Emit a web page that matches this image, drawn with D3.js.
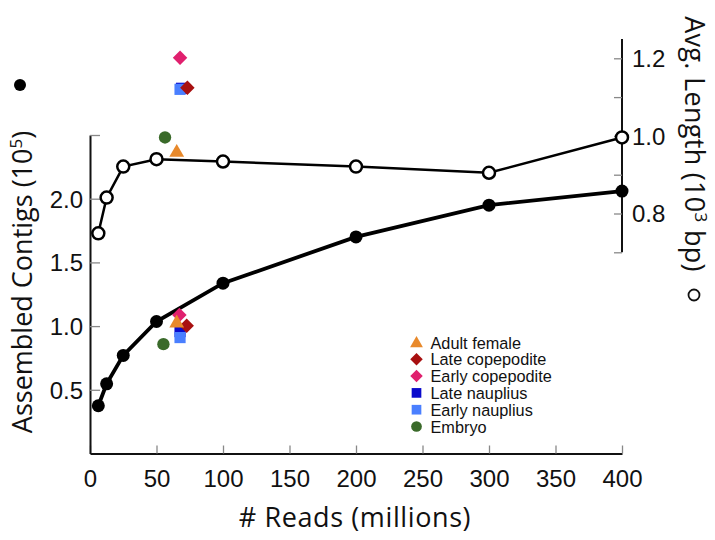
<!DOCTYPE html>
<html><head><meta charset="utf-8">
<script src="https://cdn.jsdelivr.net/npm/d3@7"></script>
<style>body{margin:0;background:#fff}svg{display:block}</style>
</head><body>
<svg id="c" width="715" height="540"></svg>
<script>
// ---- data ----
const reads = [6.25, 12.5, 25, 50, 100, 200, 300, 400];
const contigs = [0.375, 0.547, 0.77, 1.036, 1.337, 1.70, 1.949, 2.06];      // 10^5, left axis
const avgLength = [0.749, 0.841, 0.921, 0.94, 0.934, 0.921, 0.905, 0.996];  // 10^3 bp, right axis

const stages = ["Adult female", "Late copepodite", "Early copepodite", "Late nauplius", "Early nauplius", "Embryo"];
const stageReads = [65.2, 72.7, 67.2, 67.7, 67.7, 55.2];
const stageContigs = [1.023, 1.002, 1.088, 0.957, 0.91, 0.858];
const stageAvgReads = [65.2, 73.2, 67.7, 68.8, 67.7, 56.4];
const stageAvgLength = [0.957, 1.124, 1.2015, 1.1227, 1.12, 0.996];
const stageColors = ["#E8892B", "#A81010", "#E0206E", "#0A0ACC", "#4A7FFF", "#3A6A2A"];
const stageShapes = ["triangle", "diamond", "diamond", "square", "square", "circle"];

const xTicks = [0, 50, 100, 150, 200, 250, 300, 350, 400];
const leftTicks = [0.5, 1.0, 1.5, 2.0, 2.5];
const leftLabels = ["0.5", "1.0", "1.5", "2.0", ""];
const rightTicks = [0.7, 0.8, 0.9, 1.0, 1.1, 1.2];
const rightLabels = ["", "0.8", "", "1.0", "", "1.2"];

// ---- scales ----
const svg = d3.select("#c");
const x = d3.scaleLinear([0, 400], [90, 622]);
const yL = d3.scaleLinear([0, 2.5], [453.5, 135]);
const yR = d3.scaleLinear([0.7, 1.25], [252.3, 38.9]);

const tickFont = "'Liberation Sans', Arial, sans-serif";
const titleFont = "'Open Sans', sans-serif";

function styleAxis(g) {
  g.select(".domain").attr("stroke", "#111").attr("stroke-width", 2);
  g.selectAll(".tick line").attr("stroke", "#888").attr("stroke-width", 1.3);
  g.selectAll(".tick text").attr("fill", "#111").attr("font-family", tickFont).attr("font-size", 24);
}

// x axis (ticks inward)
svg.append("g").attr("transform", "translate(0,453.5)")
  .call(d3.axisBottom(x).tickValues(xTicks).tickSizeInner(-8).tickSizeOuter(0).tickPadding(0).tickFormat(d3.format("d")))
  .call(styleAxis)
  .call(g => g.selectAll(".tick text").attr("dy", "0").attr("y", 33));

// left axis
svg.append("g").attr("transform", "translate(90,0)")
  .call(d3.axisLeft(yL).tickValues(leftTicks).tickSizeInner(-10).tickSizeOuter(0).tickPadding(7)
    .tickFormat((d, i) => leftLabels[i]))
  .call(styleAxis)
  .call(g => g.selectAll(".tick text").attr("x", -7).attr("dy", "0.35em"));

// right axis
svg.append("g").attr("transform", "translate(622,0)")
  .call(d3.axisRight(yR).tickValues(rightTicks).tickSizeInner(-8).tickSizeOuter(0)
    .tickFormat((d, i) => rightLabels[i]))
  .call(styleAxis)
  .call(g => g.selectAll(".tick text").attr("x", 10).attr("dy", "0.35em"))
  .call(g => g.select(".domain").attr("d", `M0,${yR(1.25)}V${yR(0.7)}`));

// ---- lines ----
const contigLine = d3.line().x((d, i) => x(reads[i])).y(d => yL(d));
const lenLine = d3.line().x((d, i) => x(reads[i])).y(d => yR(d));
svg.append("path").attr("d", lenLine(avgLength)).attr("fill", "none").attr("stroke", "#000").attr("stroke-width", 2.5);
svg.append("path").attr("d", contigLine(contigs)).attr("fill", "none").attr("stroke", "#000").attr("stroke-width", 3.8);

svg.append("g").selectAll("circle").data(avgLength).join("circle")
  .attr("cx", (d, i) => x(reads[i])).attr("cy", d => yR(d)).attr("r", 6)
  .attr("fill", "#fff").attr("stroke", "#000").attr("stroke-width", 2.5);
svg.append("g").selectAll("circle").data(contigs).join("circle")
  .attr("cx", (d, i) => x(reads[i])).attr("cy", d => yL(d)).attr("r", 6.5).attr("fill", "#000");

// ---- stage markers ----
function symPath(shape, big) {
  const k = big ? 1 : 0.75;
  if (shape === "triangle") return d3.symbol(d3.symbolTriangle, 95 * k)();
  if (shape === "circle") return d3.symbol(d3.symbolCircle, 120 * k)();
  if (shape === "diamond") return d3.symbol(d3.symbolSquare, 105 * k)();
  return d3.symbol(d3.symbolSquare, 125 * k)();
}
function rot(shape) { return shape === "diamond" ? " rotate(45)" : ""; }

const drawOrder = [3, 4, 2, 1, 0, 5];
const g2 = svg.append("g");
drawOrder.forEach(i => {
  g2.append("path").attr("d", symPath(stageShapes[i], true))
    .attr("transform", `translate(${x(stageAvgReads[i])},${yR(stageAvgLength[i])})${rot(stageShapes[i])}`)
    .attr("fill", stageColors[i]);
});
drawOrder.forEach(i => {
  g2.append("path").attr("d", symPath(stageShapes[i], true))
    .attr("transform", `translate(${x(stageReads[i])},${yL(stageContigs[i])})${rot(stageShapes[i])}`)
    .attr("fill", stageColors[i]);
});

// ---- legend ----
const leg = svg.append("g").attr("transform", "translate(416.5,342.5)");
stages.forEach((s, i) => {
  const row = leg.append("g").attr("transform", `translate(0,${i * 16.8})`);
  row.append("path").attr("d", symPath(stageShapes[i], false))
    .attr("transform", (stageShapes[i] === "triangle" ? "translate(0,1)" : "") + rot(stageShapes[i]))
    .attr("fill", stageColors[i]);
  row.append("text").attr("x", 14).attr("y", 6).text(s)
    .attr("font-family", tickFont).attr("font-size", 16.3).attr("fill", "#111");
});

// ---- titles ----
svg.append("text").attr("x", 355).attr("y", 527).attr("text-anchor", "middle")
  .attr("font-family", titleFont).attr("font-size", 27).attr("letter-spacing", 0.6)
  .attr("fill", "#111").text("# Reads (millions)");

const lt = svg.append("text").attr("transform", "translate(32,282) rotate(-90)").attr("text-anchor", "middle")
  .attr("font-family", titleFont).attr("font-size", 27).attr("fill", "#111");
lt.append("tspan").text("Assembled Contigs (10");
lt.append("tspan").attr("dy", -10).attr("font-size", 17).text("5");
lt.append("tspan").attr("dy", 10).text(")");
svg.append("circle").attr("cx", 20).attr("cy", 85).attr("r", 6).attr("fill", "#000");

const rt = svg.append("text").attr("transform", "translate(685,144) rotate(90)").attr("text-anchor", "middle")
  .attr("font-family", titleFont).attr("font-size", 27).attr("letter-spacing", 0.3).attr("fill", "#111");
rt.append("tspan").text("Avg. Length (10");
rt.append("tspan").attr("dy", -10).attr("font-size", 17).text("3");
rt.append("tspan").attr("dy", 10).text(" bp)");
svg.append("circle").attr("cx", 694).attr("cy", 295).attr("r", 5.5).attr("fill", "#fff").attr("stroke", "#111").attr("stroke-width", 1.8);
</script>
</body></html>
